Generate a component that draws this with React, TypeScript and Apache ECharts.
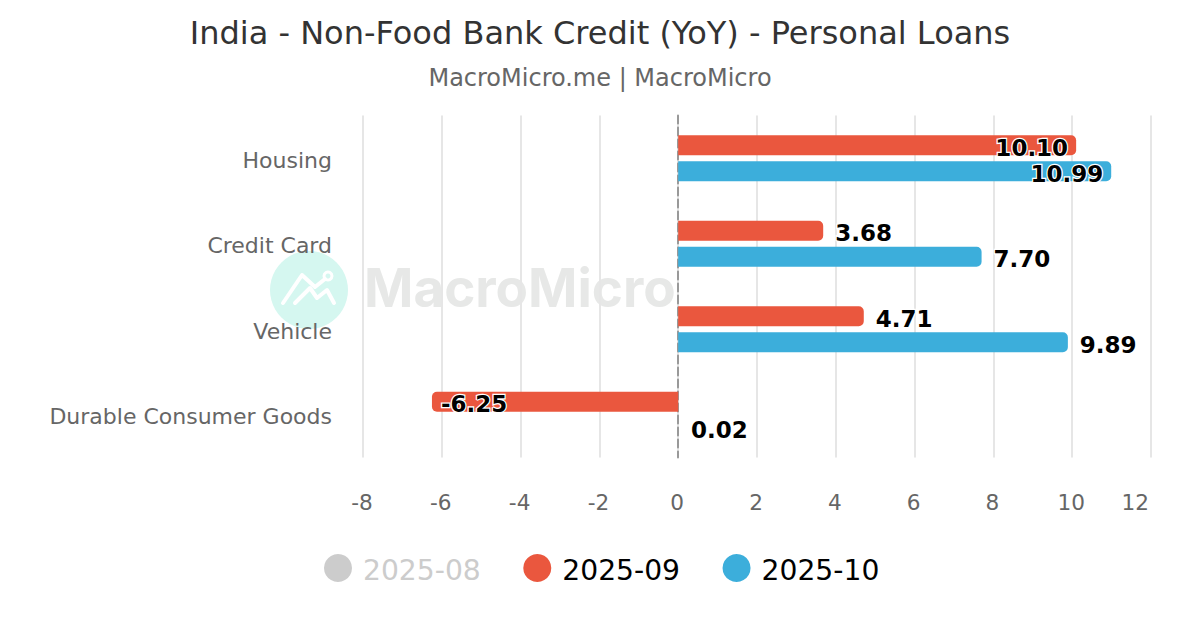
import React, { useEffect, useRef } from "react";
import * as echarts from "echarts";

const titleText = "India - Non-Food Bank Credit (YoY) - Personal Loans";
const subtitleText = "MacroMicro.me | MacroMicro";
const categories = ["Housing", "Credit Card", "Vehicle", "Durable Consumer Goods"];
const seriesNames = ["2025-08", "2025-09", "2025-10"];
const values0925 = [10.1, 3.68, 4.71, -6.25];
const values1025 = [10.99, 7.7, 9.89, 0.02];
const xMin = -8;
const xMax = 12;
const xStep = 2;

const RED = "#EA573E";
const BLUE = "#3CAEDB";

function point(v: number, color: string) {
  // Long bars carry the label inside, at their far end; short ones outside.
  const inside = v > 10 || v < -6;
  const position = !inside ? "right" : v < 0 ? "insideLeft" : "insideRight";
  return {
    value: v,
    itemStyle: {
      // A bar under one pixel wide does not show in the reference.
      color: Math.abs(v) < 0.05 ? "transparent" : color,
      borderRadius: v < 0 ? [5, 0, 0, 5] : [0, 5, 5, 0],
    },
    label: {
      show: true,
      position,
      distance: inside ? (v < 0 ? 9 : 8) : 12,
      offset: [0, 2.5],
      formatter: v.toFixed(2),
      color: "#000",
      fontWeight: "bold",
      fontSize: 23,
      fontFamily: "DejaVu Sans",
      textBorderColor: "#fff",
      textBorderWidth: 2.5,
    },
  };
}

export default function App() {
  const ref = useRef<HTMLDivElement>(null);

  useEffect(() => {
    const chart = echarts.init(ref.current!, undefined, { renderer: "svg" });
    chart.setOption({
      animation: false,
      backgroundColor: "#fff",
      textStyle: { fontFamily: "DejaVu Sans" },
      title: [
        {
          text: titleText,
          left: "center",
          top: 17,
          padding: 0,
          textStyle: { fontSize: 32, fontWeight: "normal", color: "#333", fontFamily: "DejaVu Sans" },
        },
        {
          text: subtitleText,
          left: "center",
          top: 65.5,
          padding: 0,
          textStyle: { fontSize: 24, fontWeight: "normal", color: "#666", fontFamily: "DejaVu Sans" },
        },
      ],
      legend: {
        left: 324,
        top: 554,
        padding: 0,
        icon: "circle",
        itemWidth: 28,
        itemHeight: 28,
        itemGap: 42.5,
        data: seriesNames,
        selected: { [seriesNames[0]]: false },
        inactiveColor: "#ccc",
        inactiveBorderWidth: 0,
        formatter: "{t|{name}}",
        textStyle: {
          fontSize: 28.2,
          color: "#000",
          fontFamily: "DejaVu Sans",
          padding: [0, 0, 0, 6],
          rich: { t: { fontSize: 28.2, fontFamily: "DejaVu Sans", padding: [4, 0, 0, 0] } },
        },
      },
      grid: { left: 363, right: 49, top: 115.5, bottom: 172.5, containLabel: false },
      xAxis: {
        type: "value",
        min: xMin,
        max: xMax,
        interval: xStep,
        axisLine: { show: false },
        axisTick: { show: false },
        splitLine: { show: true, lineStyle: { color: "#e6e6e6", width: 2 } },
        axisLabel: {
          color: "#666",
          fontSize: 21.6,
          margin: 34,
          padding: [0, 2, 0, 0],
          fontFamily: "DejaVu Sans",
          alignMaxLabel: "right",
        },
      },
      yAxis: {
        type: "category",
        inverse: true,
        data: categories,
        axisTick: { show: false },
        axisLine: { show: true, onZero: true, lineStyle: { color: "#999", type: "dashed", width: 2 } },
        axisLabel: {
          color: "#666",
          fontSize: 22,
          margin: 31,
          verticalAlign: "top",
          lineHeight: 4,
          fontFamily: "DejaVu Sans",
          interval: 0,
        },
      },
      graphic: [
        {
          type: "group",
          silent: true,
          z: -1,
          children: [
            { type: "circle", shape: { cx: 309, cy: 290, r: 39 }, style: { fill: "#D5F7F0" }, z: -1 },
            {
              type: "polyline",
              shape: { points: [[283, 303], [302, 275], [315, 287], [325, 279]] },
              style: { stroke: "#fff", lineWidth: 4, fill: "none", lineCap: "round", lineJoin: "round" },
              z: -1,
            },
            {
              type: "polyline",
              shape: { points: [[295, 303], [310, 288], [317, 298], [327, 290], [334, 303]] },
              style: { stroke: "#fff", lineWidth: 4, fill: "none", lineCap: "round", lineJoin: "round" },
              z: -1,
            },
            { type: "circle", shape: { cx: 328, cy: 276, r: 4 }, style: { fill: "none", stroke: "#fff", lineWidth: 3 }, z: -1 },
            {
              type: "text",
              x: 364,
              y: 261,
              z: -1,
              style: { text: "MacroMicro", fill: "#E7E8E7", font: "700 53px Inter" },
            },
          ],
        },
      ],
      series: [
        { name: seriesNames[0], type: "bar", data: [], barWidth: 20, barGap: "30%" },
        {
          name: seriesNames[1],
          type: "bar",
          barWidth: 20,
          barGap: "30%",
          color: RED,
          data: values0925.map((v) => point(v, RED)),
        },
        {
          name: seriesNames[2],
          type: "bar",
          barWidth: 20,
          barGap: "30%",
          color: BLUE,
          data: values1025.map((v) => point(v, BLUE)),
        },
      ],
    });
    return () => chart.dispose();
  }, []);

  return <div ref={ref} style={{ position: "absolute", left: 0, top: 0, width: 1200, height: 630 }} />;
}
